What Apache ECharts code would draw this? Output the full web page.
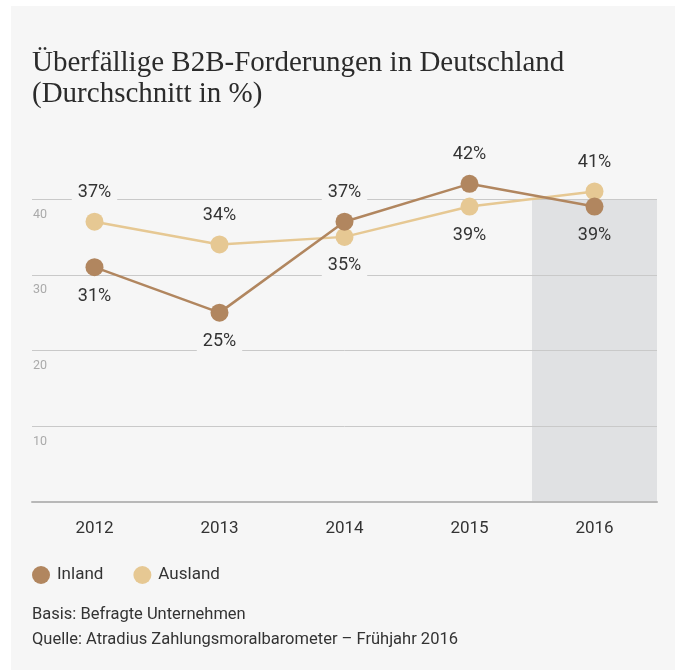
<!DOCTYPE html>
<html>
<head>
<meta charset="utf-8">
<script src="https://cdn.jsdelivr.net/npm/echarts@6/dist/echarts.min.js"></script>
<style>
  html, body { margin: 0; padding: 0; background: #fff; }
  #chart { width: 680px; height: 672px; }
</style>
</head>
<body>
<div id="chart"></div>
<script>
// Jahre und Werte (in %)
var years = ['2012', '2013', '2014', '2015', '2016'];
var inland = [31, 25, 37, 42, 39];
var ausland = [37, 34, 35, 39, 41];
var yTicks = [0, 10, 20, 30, 40];

// wo die Beschriftung am Punkt sitzt
var inlandLabelPos = ['bottom', 'bottom', 'top', 'top', 'bottom'];
var auslandLabelPos = ['top', 'top', 'bottom', 'bottom', 'top'];

var sans = "Roboto, sans-serif";
var bg = '#f6f6f6';

function withLabels(values, positions) {
    return values.map(function (v, i) {
        return {
            value: v,
            label: {
                position: positions[i],
                // im grauen 2016-Feld kein heller Kasten
                backgroundColor: i === years.length - 1 ? 'transparent' : bg
            }
        };
    });
}

var myChart = echarts.init(document.getElementById('chart'));

myChart.setOption({
    backgroundColor: '#fff',
    animation: false,
    graphic: [{
        type: 'rect',
        z: -100,
        shape: { x: 11, y: 6, width: 664, height: 664 },
        style: { fill: bg }
    }],
    title: [
        {
            text: 'Überfällige B2B-Forderungen in Deutschland\n(Durchschnitt in %)',
            left: 32,
            top: 48,
            padding: 0,
            textStyle: {
                fontFamily: "'Liberation Serif', serif",
                fontWeight: 'normal',
                fontSize: 29,
                lineHeight: 31,
                color: '#2b2b2b'
            }
        },
        {
            text: 'Basis: Befragte Unternehmen\nQuelle: Atradius Zahlungsmoralbarometer – Frühjahr 2016',
            left: 32,
            top: 602,
            padding: 0,
            textStyle: {
                fontFamily: sans,
                fontWeight: 'normal',
                fontSize: 16.5,
                lineHeight: 25,
                color: '#333'
            }
        }
    ],
    legend: {
        data: ['Inland', 'Ausland'],
        left: 32,
        top: 566,
        padding: 0,
        icon: 'circle',
        itemWidth: 18,
        itemHeight: 18,
        itemGap: 30,
        textStyle: { fontFamily: sans, fontSize: 17, color: '#333', padding: [0, 0, 0, 2] }
    },
    grid: { left: 32, right: 23, top: 199, bottom: 170, containLabel: false },
    xAxis: [
        {
            type: 'category',
            data: years,
            boundaryGap: true,
            axisLine: { lineStyle: { color: '#b8b8b8', width: 2 } },
            axisTick: { alignWithLabel: true, inside: true, length: 5, lineStyle: { color: '#999' } },
            axisLabel: { fontFamily: sans, fontSize: 17, color: '#333', margin: 18 },
            splitLine: { show: false }
        },
        {
            // nur für das graue 2016-Feld
            type: 'value',
            min: 0,
            max: years.length,
            show: false
        }
    ],
    yAxis: {
        type: 'value',
        min: yTicks[0],
        max: yTicks[yTicks.length - 1],
        interval: 10,
        axisLine: { show: false },
        axisTick: { show: false },
        axisLabel: {
            inside: true,
            margin: 1,
            showMinLabel: false,
            verticalAlign: 'top',
            padding: [9, 0, 0, 0],
            fontFamily: sans,
            fontSize: 12.5,
            color: '#aaa'
        },
        splitLine: { lineStyle: { color: '#c9c9c9', width: 1 } }
    },
    series: [
        {
            name: 'shade',
            type: 'line',
            xAxisIndex: 1,
            data: [],
            clip: false,
            silent: true,
            z: -1,
            markArea: {
                silent: true,
                z: -1,
                itemStyle: { color: '#e0e1e3' },
                data: [[{ xAxis: years.length - 1, yAxis: -6.5 }, { xAxis: years.length, yAxis: 40 }]]
            }
        },
        {
            name: 'Ausland',
            type: 'line',
            data: withLabels(ausland, auslandLabelPos),
            clip: false,
            symbol: 'circle',
            symbolSize: 18,
            z: 3,
            itemStyle: { color: '#e6c893' },
            lineStyle: { color: '#e6c893', width: 2.5 },
            label: {
                show: true,
                formatter: '{c}%',
                distance: 10,
                padding: [1, 6],
                fontFamily: sans,
                fontSize: 18,
                color: '#333'
            }
        },
        {
            name: 'Inland',
            type: 'line',
            data: withLabels(inland, inlandLabelPos),
            clip: false,
            symbol: 'circle',
            symbolSize: 18,
            z: 4,
            itemStyle: { color: '#b1865f' },
            lineStyle: { color: '#b1865f', width: 2.5 },
            label: {
                show: true,
                formatter: '{c}%',
                distance: 10,
                padding: [1, 6],
                fontFamily: sans,
                fontSize: 18,
                color: '#333'
            }
        }
    ]
});
</script>
</body>
</html>
